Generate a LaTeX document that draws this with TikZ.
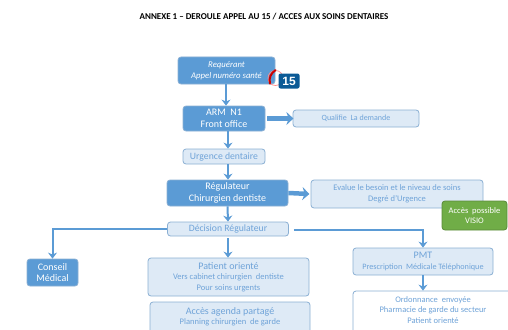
\documentclass[tikz,border=0pt]{standalone}
\usepackage{fontspec}
\usetikzlibrary{arrows.meta}
\setmainfont{Carlito}
\newfontfamily\badgefont{Liberation Sans}
\definecolor{darkblue}{HTML}{5B9BD5}
\definecolor{edgeblue}{HTML}{8AAFD3}
\definecolor{paleblue}{HTML}{DEEAF6}
\definecolor{textblue}{HTML}{6FA3D8}
\definecolor{badgeblue}{HTML}{0B5A96}
\definecolor{leafgreen}{HTML}{70AD47}
\begin{document}
\begin{tikzpicture}
[x=1pt,y=-1pt,
  darkdecorate/.style={draw=edgeblue,fill=darkblue,text=white,rounded corners=3pt,thick,align=center,font=\fontsize{10}{11.7}\selectfont,inner sep=0pt},%
  palidecorate/.style={draw=edgeblue,fill=paleblue,text=textblue,rounded corners=3pt,thick,align=center,font=\fontsize{8.5}{10.7}\selectfont,inner sep=0pt},%
  whitedecorate/.style={palidecorate,fill=white},%
  arrowdecorate/.style={-{Stealth[length=6pt,width=9pt]},draw=darkblue,line width=2pt},
  fatdecorate/.style={-{Stealth[length=7pt,width=13pt]},draw=darkblue,line width=4.5pt}]
\useasboundingbox (0,0) rectangle (508,329);
\clip (0,0) rectangle (508,329);
% title
\node (title) at (264,17) {\fontsize{9}{10}\selectfont\bfseries ANNEXE 1 – DEROULE APPEL AU 15 / ACCES AUX SOINS DENTAIRES};
% nodes or vertices
\node (req) at (226.5,70.5) [darkdecorate,minimum width=97pt,minimum height=27pt,font=\fontsize{8.7}{10.7}\selectfont\itshape] {Requérant\\Appel numéro santé};
\node (arm) at (224,118.5) [darkdecorate,minimum width=82pt,minimum height=25pt] {ARM\ \ N1\\Front office};
\node (urg) at (224,156.5) [palidecorate,minimum width=82pt,minimum height=15pt,font=\fontsize{9.7}{10}\selectfont] {Urgence dentaire};
\node (reg) at (227.5,193) [darkdecorate,minimum width=121pt,minimum height=26pt] {Régulateur\\Chirurgien dentiste};
\node (dec) at (228,229) [palidecorate,minimum width=121pt,minimum height=14pt,font=\fontsize{9.7}{10}\selectfont] {Décision Régulateur};
\node (cons) at (52.5,272.5) [darkdecorate,minimum width=51pt,minimum height=27pt] {Conseil\\Médical};
\node (pat) at (228.5,277) [palidecorate,minimum width=161pt,minimum height=38pt] {{\fontsize{10}{10.7}\selectfont Patient orienté}\\Vers cabinet chirurgien\ \ dentiste\\Pour soins urgents};
\node (agenda) at (230,320) [palidecorate,minimum width=160pt,minimum height=36pt,text depth=8pt] {{\fontsize{10}{10.7}\selectfont Accès agenda partagé}\\Planning chirurgien\ \ de garde};
\node (qual) at (356,118.5) [palidecorate,minimum width=126pt,minimum height=17pt,font=\fontsize{8}{10}\selectfont] {Qualifie\ \ La demande};
\node (eval) at (397,194) [palidecorate,minimum width=172pt,minimum height=28pt] {Evalue le besoin et le niveau de soins\\Degré d’Urgence};
\node (visio) at (474.5,215.5) [draw=leafgreen!80!black,fill=leafgreen,text=white,rounded corners=3pt,thick,align=center,font=\fontsize{8.5}{10.5}\selectfont,minimum width=65pt,minimum height=29pt,inner sep=0pt] {Accès\ \ possible\\VISIO};
\node (pmt) at (423,261.5) [palidecorate,minimum width=140pt,minimum height=27pt,font=\fontsize{8.2}{10.5}\selectfont] {{\fontsize{10}{10.5}\selectfont PMT}\\Prescription\ \ Médicale Téléphonique};
\node (ord) at (435,325) [whitedecorate,minimum width=164pt,minimum height=68pt] {};
\node (ordtext) at (433,310) [text=textblue,align=center,font=\fontsize{8.5}{10.7}\selectfont,inner sep=0pt] {Ordonnance\ \ envoyée\\Pharmacie de garde du secteur\\Patient orienté};
% phone badge
\node (ring) at (275.5,78) [shape=circle,draw=red!45,line width=0.7pt,minimum size=15pt,inner sep=0pt] {};
\draw[red!80!black,line width=2pt,line cap=round] (ring.north) to[bend right=35] (ring.south west);
\node (badge) at (289,81) [fill=badgeblue,text=white,rounded corners=2pt,minimum width=21pt,minimum height=15pt,inner sep=0pt,font=\badgefont\bfseries\fontsize{12}{12}\selectfont] {15};
% edges or lines
\path
(req.south -| 226,0) edge[arrowdecorate] (arm.north -| 226,0)
(arm.south -| 228,0) edge[arrowdecorate] (urg.north -| 228,0)
(urg.south -| 228,0) edge[arrowdecorate] (reg.north -| 228,0)
(reg.south) edge[arrowdecorate] (dec.north)
(dec.south) ++(0,2) edge[arrowdecorate] (pat.north -| dec.south)
(pmt.south) edge[arrowdecorate] (ord.north -| pmt.south)
(arm.east) ++(2,0) edge[fatdecorate] ++(26,0)
(reg.east) edge[fatdecorate] ++(21,1);
\draw[arrowdecorate] (dec.west) -| (cons.north);
\draw[arrowdecorate] (dec.east) ++(5,1) -| (pmt.north);
\end{tikzpicture}
\end{document}
